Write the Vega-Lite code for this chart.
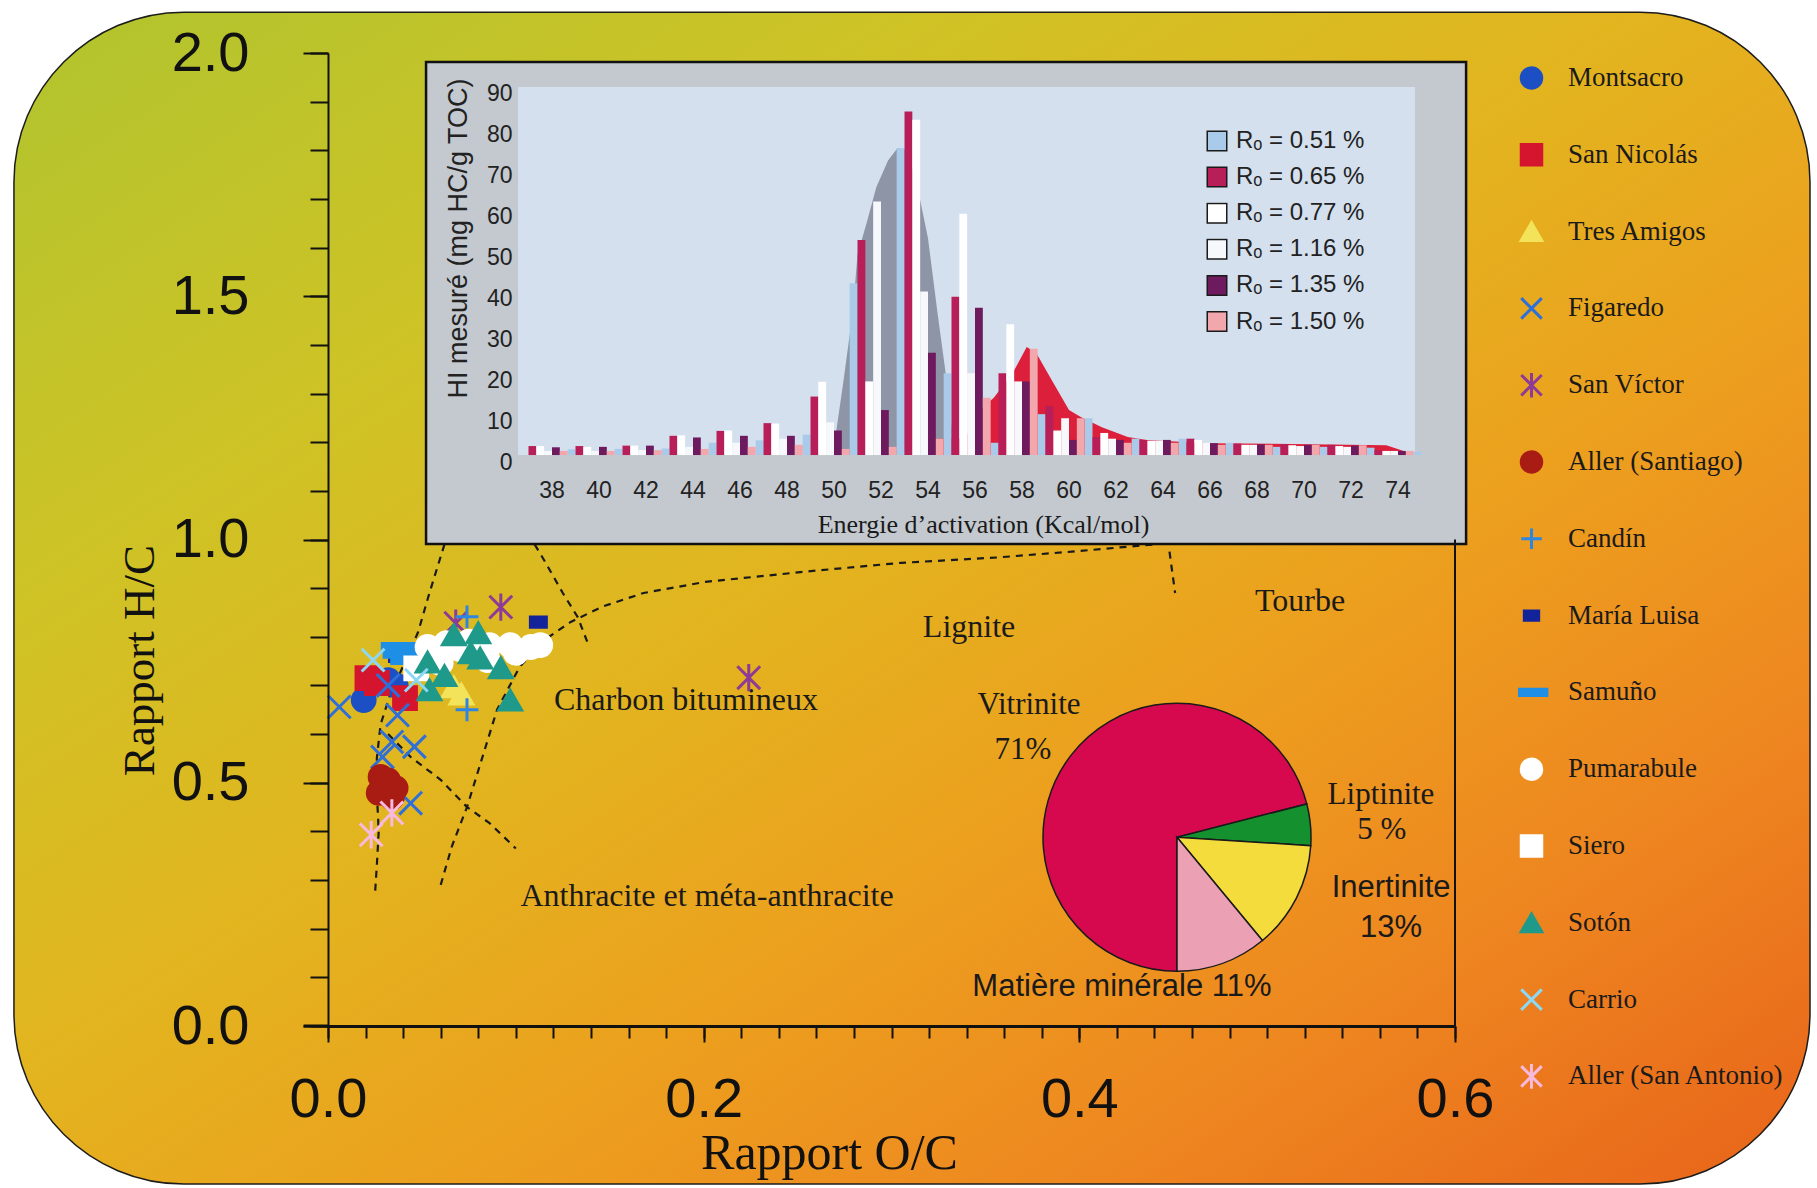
{
  "$schema": "https://vega.github.io/schema/vega-lite/v6.json",
  "width": 1127,
  "height": 973,
  "autosize": {"type": "none"},
  "padding": {"left": 328, "top": 53, "right": 362, "bottom": 162},
  "background": "#ffffff",
  "config": {"view": {"stroke": null}, "axis": {"grid": false}},
  "datasets": {
    "limites": [
      {"trait": "L1", "ordre": 1, "oc": 0.060, "hc": 0.29},
      {"trait": "L1", "ordre": 2, "oc": 0.066, "hc": 0.37},
      {"trait": "L1", "ordre": 3, "oc": 0.074, "hc": 0.45},
      {"trait": "L1", "ordre": 4, "oc": 0.082, "hc": 0.55},
      {"trait": "L1", "ordre": 5, "oc": 0.090, "hc": 0.65},
      {"trait": "L1", "ordre": 6, "oc": 0.102, "hc": 0.738},
      {"trait": "L1", "ordre": 7, "oc": 0.115, "hc": 0.793},
      {"trait": "L1", "ordre": 8, "oc": 0.129, "hc": 0.830},
      {"trait": "L1", "ordre": 9, "oc": 0.146, "hc": 0.862},
      {"trait": "L1", "ordre": 10, "oc": 0.168, "hc": 0.890},
      {"trait": "L1", "ordre": 11, "oc": 0.201, "hc": 0.913},
      {"trait": "L1", "ordre": 12, "oc": 0.257, "hc": 0.935},
      {"trait": "L1", "ordre": 13, "oc": 0.305, "hc": 0.952},
      {"trait": "L1", "ordre": 14, "oc": 0.356, "hc": 0.963},
      {"trait": "L1", "ordre": 15, "oc": 0.396, "hc": 0.975},
      {"trait": "L1", "ordre": 16, "oc": 0.440, "hc": 0.990},
      {"trait": "L2", "ordre": 1, "oc": 0.062, "hc": 0.99},
      {"trait": "L2", "ordre": 2, "oc": 0.058, "hc": 0.94},
      {"trait": "L2", "ordre": 3, "oc": 0.054, "hc": 0.89},
      {"trait": "L2", "ordre": 4, "oc": 0.048, "hc": 0.81},
      {"trait": "L2", "ordre": 5, "oc": 0.040, "hc": 0.74},
      {"trait": "L2", "ordre": 6, "oc": 0.033, "hc": 0.68},
      {"trait": "L2", "ordre": 7, "oc": 0.028, "hc": 0.62},
      {"trait": "L2", "ordre": 8, "oc": 0.026, "hc": 0.55},
      {"trait": "L2", "ordre": 9, "oc": 0.026, "hc": 0.48},
      {"trait": "L2", "ordre": 10, "oc": 0.027, "hc": 0.40},
      {"trait": "L2", "ordre": 11, "oc": 0.026, "hc": 0.33},
      {"trait": "L2", "ordre": 12, "oc": 0.025, "hc": 0.27},
      {"trait": "L3", "ordre": 1, "oc": 0.110, "hc": 0.99},
      {"trait": "L3", "ordre": 2, "oc": 0.115, "hc": 0.958},
      {"trait": "L3", "ordre": 3, "oc": 0.125, "hc": 0.890},
      {"trait": "L3", "ordre": 4, "oc": 0.133, "hc": 0.840},
      {"trait": "L3", "ordre": 5, "oc": 0.138, "hc": 0.790},
      {"trait": "L4", "ordre": 1, "oc": 0.032, "hc": 0.600},
      {"trait": "L4", "ordre": 2, "oc": 0.044, "hc": 0.553},
      {"trait": "L4", "ordre": 3, "oc": 0.060, "hc": 0.506},
      {"trait": "L4", "ordre": 4, "oc": 0.074, "hc": 0.450},
      {"trait": "L4", "ordre": 5, "oc": 0.086, "hc": 0.417},
      {"trait": "L4", "ordre": 6, "oc": 0.100, "hc": 0.365},
      {"trait": "L5", "ordre": 1, "oc": 0.448, "hc": 0.975},
      {"trait": "L5", "ordre": 2, "oc": 0.451, "hc": 0.890}
    ],
    "profil": [
      {"forme": "cloche", "E": 49.9, "HI": 0},
      {"forme": "cloche", "E": 50.0, "HI": 2},
      {"forme": "cloche", "E": 50.4, "HI": 18},
      {"forme": "cloche", "E": 50.8, "HI": 35},
      {"forme": "cloche", "E": 51.0, "HI": 49},
      {"forme": "cloche", "E": 51.4, "HI": 57},
      {"forme": "cloche", "E": 51.8, "HI": 65.5},
      {"forme": "cloche", "E": 52.3, "HI": 72},
      {"forme": "cloche", "E": 52.7, "HI": 75},
      {"forme": "cloche", "E": 53.1, "HI": 74.6},
      {"forme": "cloche", "E": 53.5, "HI": 67},
      {"forme": "cloche", "E": 54.0, "HI": 53},
      {"forme": "cloche", "E": 54.4, "HI": 35},
      {"forme": "cloche", "E": 54.8, "HI": 18},
      {"forme": "cloche", "E": 55.1, "HI": 2},
      {"forme": "cloche", "E": 55.2, "HI": 0},
      {"forme": "bosse", "E": 54.2, "HI": 0},
      {"forme": "bosse", "E": 54.3, "HI": 4},
      {"forme": "bosse", "E": 55.6, "HI": 4},
      {"forme": "bosse", "E": 56.0, "HI": 10},
      {"forme": "bosse", "E": 56.8, "HI": 14},
      {"forme": "bosse", "E": 57.6, "HI": 20},
      {"forme": "bosse", "E": 58.2, "HI": 26.4},
      {"forme": "bosse", "E": 58.6, "HI": 25},
      {"forme": "bosse", "E": 59.3, "HI": 18},
      {"forme": "bosse", "E": 60.0, "HI": 11},
      {"forme": "bosse", "E": 60.5, "HI": 9.3},
      {"forme": "bosse", "E": 61.4, "HI": 6.8},
      {"forme": "bosse", "E": 62.5, "HI": 4.4},
      {"forme": "bosse", "E": 63.3, "HI": 3.7},
      {"forme": "bosse", "E": 66.0, "HI": 2.9},
      {"forme": "bosse", "E": 69.5, "HI": 2.7},
      {"forme": "bosse", "E": 73.5, "HI": 2.4},
      {"forme": "bosse", "E": 74.5, "HI": 0.5},
      {"forme": "bosse", "E": 74.6, "HI": 0}
    ],
    "energie": [
      {"E": 38, "Ro": "0.51", "HI": 1.4}, {"E": 38, "Ro": "0.65", "HI": 2.2}, {"E": 38, "Ro": "0.77", "HI": 2.2}, {"E": 38, "Ro": "1.16", "HI": 1.0}, {"E": 38, "Ro": "1.35", "HI": 1.9}, {"E": 38, "Ro": "1.50", "HI": 1.0},
      {"E": 40, "Ro": "0.51", "HI": 1.5}, {"E": 40, "Ro": "0.65", "HI": 2.2}, {"E": 40, "Ro": "0.77", "HI": 2.0}, {"E": 40, "Ro": "1.16", "HI": 1.0}, {"E": 40, "Ro": "1.35", "HI": 2.0}, {"E": 40, "Ro": "1.50", "HI": 1.0},
      {"E": 42, "Ro": "0.51", "HI": 1.6}, {"E": 42, "Ro": "0.65", "HI": 2.3}, {"E": 42, "Ro": "0.77", "HI": 2.3}, {"E": 42, "Ro": "1.16", "HI": 1.2}, {"E": 42, "Ro": "1.35", "HI": 2.3}, {"E": 42, "Ro": "1.50", "HI": 1.2},
      {"E": 44, "Ro": "0.51", "HI": 3.0}, {"E": 44, "Ro": "0.65", "HI": 4.7}, {"E": 44, "Ro": "0.77", "HI": 4.8}, {"E": 44, "Ro": "1.16", "HI": 2.0}, {"E": 44, "Ro": "1.35", "HI": 4.3}, {"E": 44, "Ro": "1.50", "HI": 1.5},
      {"E": 46, "Ro": "0.51", "HI": 3.6}, {"E": 46, "Ro": "0.65", "HI": 5.9}, {"E": 46, "Ro": "0.77", "HI": 6.0}, {"E": 46, "Ro": "1.16", "HI": 3.0}, {"E": 46, "Ro": "1.35", "HI": 4.7}, {"E": 46, "Ro": "1.50", "HI": 2.0},
      {"E": 48, "Ro": "0.51", "HI": 5.0}, {"E": 48, "Ro": "0.65", "HI": 7.8}, {"E": 48, "Ro": "0.77", "HI": 7.7}, {"E": 48, "Ro": "1.16", "HI": 4.0}, {"E": 48, "Ro": "1.35", "HI": 4.7}, {"E": 48, "Ro": "1.50", "HI": 2.5},
      {"E": 50, "Ro": "0.51", "HI": 42}, {"E": 50, "Ro": "0.65", "HI": 14.3}, {"E": 50, "Ro": "0.77", "HI": 17.9}, {"E": 50, "Ro": "1.16", "HI": 8.0}, {"E": 50, "Ro": "1.35", "HI": 6.0}, {"E": 50, "Ro": "1.50", "HI": 1.5},
      {"E": 52, "Ro": "0.51", "HI": 75}, {"E": 52, "Ro": "0.65", "HI": 52.6}, {"E": 52, "Ro": "0.77", "HI": 18}, {"E": 52, "Ro": "1.16", "HI": 62}, {"E": 52, "Ro": "1.35", "HI": 11}, {"E": 52, "Ro": "1.50", "HI": 2.0},
      {"E": 54, "Ro": "0.51", "HI": 20}, {"E": 54, "Ro": "0.65", "HI": 84}, {"E": 54, "Ro": "0.77", "HI": 82}, {"E": 54, "Ro": "1.16", "HI": 40}, {"E": 54, "Ro": "1.35", "HI": 25}, {"E": 54, "Ro": "1.50", "HI": 4},
      {"E": 56, "Ro": "0.51", "HI": 3}, {"E": 56, "Ro": "0.65", "HI": 38.7}, {"E": 56, "Ro": "0.77", "HI": 59}, {"E": 56, "Ro": "1.16", "HI": 20}, {"E": 56, "Ro": "1.35", "HI": 36}, {"E": 56, "Ro": "1.50", "HI": 14},
      {"E": 58, "Ro": "0.51", "HI": 10}, {"E": 58, "Ro": "0.65", "HI": 20}, {"E": 58, "Ro": "0.77", "HI": 32}, {"E": 58, "Ro": "1.16", "HI": 18}, {"E": 58, "Ro": "1.35", "HI": 18}, {"E": 58, "Ro": "1.50", "HI": 26},
      {"E": 60, "Ro": "0.51", "HI": 9}, {"E": 60, "Ro": "0.65", "HI": 12}, {"E": 60, "Ro": "0.77", "HI": 6}, {"E": 60, "Ro": "1.16", "HI": 9}, {"E": 60, "Ro": "1.35", "HI": 3.7}, {"E": 60, "Ro": "1.50", "HI": 9},
      {"E": 62, "Ro": "0.51", "HI": 4}, {"E": 62, "Ro": "0.65", "HI": 4.4}, {"E": 62, "Ro": "0.77", "HI": 5.4}, {"E": 62, "Ro": "1.16", "HI": 4}, {"E": 62, "Ro": "1.35", "HI": 3.7}, {"E": 62, "Ro": "1.50", "HI": 3},
      {"E": 64, "Ro": "0.51", "HI": 4}, {"E": 64, "Ro": "0.65", "HI": 3.7}, {"E": 64, "Ro": "0.77", "HI": 3.5}, {"E": 64, "Ro": "1.16", "HI": 3.5}, {"E": 64, "Ro": "1.35", "HI": 3.7}, {"E": 64, "Ro": "1.50", "HI": 3},
      {"E": 66, "Ro": "0.51", "HI": 3}, {"E": 66, "Ro": "0.65", "HI": 4}, {"E": 66, "Ro": "0.77", "HI": 3.7}, {"E": 66, "Ro": "1.16", "HI": 3}, {"E": 66, "Ro": "1.35", "HI": 2.9}, {"E": 66, "Ro": "1.50", "HI": 2.5},
      {"E": 68, "Ro": "0.51", "HI": 2}, {"E": 68, "Ro": "0.65", "HI": 2.8}, {"E": 68, "Ro": "0.77", "HI": 2.5}, {"E": 68, "Ro": "1.16", "HI": 2.5}, {"E": 68, "Ro": "1.35", "HI": 2.6}, {"E": 68, "Ro": "1.50", "HI": 2.5},
      {"E": 70, "Ro": "0.51", "HI": 2}, {"E": 70, "Ro": "0.65", "HI": 2.7}, {"E": 70, "Ro": "0.77", "HI": 2.4}, {"E": 70, "Ro": "1.16", "HI": 2.2}, {"E": 70, "Ro": "1.35", "HI": 2.5}, {"E": 70, "Ro": "1.50", "HI": 2.5},
      {"E": 72, "Ro": "0.51", "HI": 1.8}, {"E": 72, "Ro": "0.65", "HI": 2.5}, {"E": 72, "Ro": "0.77", "HI": 2.2}, {"E": 72, "Ro": "1.16", "HI": 2.0}, {"E": 72, "Ro": "1.35", "HI": 2.3}, {"E": 72, "Ro": "1.50", "HI": 2.4},
      {"E": 74, "Ro": "0.51", "HI": 0.8}, {"E": 74, "Ro": "0.65", "HI": 1.2}, {"E": 74, "Ro": "0.77", "HI": 1.0}, {"E": 74, "Ro": "1.16", "HI": 1.0}, {"E": 74, "Ro": "1.35", "HI": 1.0}, {"E": 74, "Ro": "1.50", "HI": 1.0}
    ],
    "maceraux": [
      {"maceral": "Vitrinite", "pct": 71, "rang": 1},
      {"maceral": "Liptinite", "pct": 5, "rang": 2},
      {"maceral": "Inertinite", "pct": 13, "rang": 3},
      {"maceral": "Matière minérale", "pct": 11, "rang": 4}
    ],
    "charbons": [
      {"site": "Montsacro", "oc": 0.019, "hc": 0.670},
      {"site": "Montsacro", "oc": 0.032, "hc": 0.711},
      {"site": "Montsacro", "oc": 0.036, "hc": 0.700},
      {"site": "San Nicolás", "oc": 0.021, "hc": 0.715},
      {"site": "San Nicolás", "oc": 0.041, "hc": 0.674},
      {"site": "San Nicolás", "oc": 0.026, "hc": 0.705},
      {"site": "Tres Amigos", "oc": 0.067, "hc": 0.697},
      {"site": "Tres Amigos", "oc": 0.071, "hc": 0.682},
      {"site": "Figaredo", "oc": 0.006, "hc": 0.656},
      {"site": "Figaredo", "oc": 0.037, "hc": 0.639},
      {"site": "Figaredo", "oc": 0.034, "hc": 0.584},
      {"site": "Figaredo", "oc": 0.046, "hc": 0.574},
      {"site": "Figaredo", "oc": 0.029, "hc": 0.553},
      {"site": "Figaredo", "oc": 0.044, "hc": 0.458},
      {"site": "Figaredo", "oc": 0.032, "hc": 0.700},
      {"site": "San Víctor", "oc": 0.092, "hc": 0.861},
      {"site": "San Víctor", "oc": 0.224, "hc": 0.716},
      {"site": "San Víctor", "oc": 0.068, "hc": 0.828},
      {"site": "Aller (Santiago)", "oc": 0.028, "hc": 0.512},
      {"site": "Aller (Santiago)", "oc": 0.036, "hc": 0.489},
      {"site": "Aller (Santiago)", "oc": 0.027, "hc": 0.479},
      {"site": "Aller (Santiago)", "oc": 0.032, "hc": 0.505},
      {"site": "Aller (Santiago)", "oc": 0.034, "hc": 0.470},
      {"site": "Candín", "oc": 0.074, "hc": 0.841},
      {"site": "Candín", "oc": 0.074, "hc": 0.650},
      {"site": "María Luisa", "oc": 0.112, "hc": 0.830},
      {"site": "María Luisa", "oc": 0.037, "hc": 0.760},
      {"site": "Samuño", "oc": 0.038, "hc": 0.779},
      {"site": "Samuño", "oc": 0.039, "hc": 0.765},
      {"site": "Samuño", "oc": 0.043, "hc": 0.752},
      {"site": "Pumarabule", "oc": 0.053, "hc": 0.779},
      {"site": "Pumarabule", "oc": 0.063, "hc": 0.787},
      {"site": "Pumarabule", "oc": 0.060, "hc": 0.746},
      {"site": "Pumarabule", "oc": 0.070, "hc": 0.775},
      {"site": "Pumarabule", "oc": 0.086, "hc": 0.783},
      {"site": "Pumarabule", "oc": 0.097, "hc": 0.783},
      {"site": "Pumarabule", "oc": 0.108, "hc": 0.779},
      {"site": "Pumarabule", "oc": 0.113, "hc": 0.783},
      {"site": "Pumarabule", "oc": 0.085, "hc": 0.752},
      {"site": "Pumarabule", "oc": 0.100, "hc": 0.767},
      {"site": "Pumarabule", "oc": 0.058, "hc": 0.762},
      {"site": "Pumarabule", "oc": 0.075, "hc": 0.790},
      {"site": "Siero", "oc": 0.047, "hc": 0.735},
      {"site": "Sotón", "oc": 0.067, "hc": 0.804},
      {"site": "Sotón", "oc": 0.080, "hc": 0.808},
      {"site": "Sotón", "oc": 0.076, "hc": 0.767},
      {"site": "Sotón", "oc": 0.081, "hc": 0.756},
      {"site": "Sotón", "oc": 0.092, "hc": 0.736},
      {"site": "Sotón", "oc": 0.053, "hc": 0.748},
      {"site": "Sotón", "oc": 0.054, "hc": 0.691},
      {"site": "Sotón", "oc": 0.097, "hc": 0.670},
      {"site": "Sotón", "oc": 0.062, "hc": 0.720},
      {"site": "Carrio", "oc": 0.024, "hc": 0.752},
      {"site": "Carrio", "oc": 0.047, "hc": 0.711},
      {"site": "Aller (San Antonio)", "oc": 0.034, "hc": 0.438},
      {"site": "Aller (San Antonio)", "oc": 0.023, "hc": 0.393}
    ],
    "zones": [
      {"texte": "Lignite", "oc": 0.3413, "hc": 0.820},
      {"texte": "Tourbe", "oc": 0.5175, "hc": 0.8736},
      {"texte": "Charbon bitumineux", "oc": 0.1906, "hc": 0.670},
      {"texte": "Anthracite et méta-anthracite", "oc": 0.2018, "hc": 0.2672}
    ],
    "etiquettesSerif": [
      {"texte": "Vitrinite", "oc": 0.3732, "hc": 0.660},
      {"texte": "71%", "oc": 0.370, "hc": 0.567},
      {"texte": "Liptinite", "oc": 0.5606, "hc": 0.475},
      {"texte": "5 %", "oc": 0.561, "hc": 0.403}
    ],
    "etiquettesSans": [
      {"texte": "Inertinite", "oc": 0.566, "hc": 0.284},
      {"texte": "13%", "oc": 0.566, "hc": 0.201},
      {"texte": "Matière minérale  11%", "oc": 0.4227, "hc": 0.080}
    ]
  },
  "resolve": {"scale": {"x": "independent", "y": "independent", "fill": "independent", "stroke": "independent", "shape": "independent"}},
  "layer": [
    {
      "data": {"values": [{}]},
      "mark": {"type": "rect", "cornerRadius": 170, "stroke": "#1c1c1c", "strokeWidth": 1.5,
        "fill": {"gradient": "linear", "x1": 0, "y1": 0, "x2": 1, "y2": 1, "stops": [
          {"offset": 0, "color": "#b0c42e"}, {"offset": 0.25, "color": "#cec326"}, {"offset": 0.45, "color": "#e2b51f"},
          {"offset": 0.62, "color": "#eca01e"}, {"offset": 0.8, "color": "#ee8620"}, {"offset": 1, "color": "#e8631a"}]}},
      "encoding": {
        "x": {"datum": -0.1672, "type": "quantitative", "scale": {"domain": [0, 0.6], "nice": false, "zero": false}, "axis": null},
        "x2": {"datum": 0.789},
        "y": {"datum": 2.084, "type": "quantitative", "scale": {"domain": [0, 2], "nice": false, "zero": false}, "axis": null},
        "y2": {"datum": -0.325}
      }
    },
    {
      "data": {"name": "limites"},
      "mark": {"type": "line", "stroke": "#1a1a1a", "strokeWidth": 2.2, "strokeDash": [7, 6]},
      "encoding": {
        "x": {"field": "oc", "type": "quantitative", "scale": {"domain": [0, 0.6], "nice": false, "zero": false}, "axis": null},
        "y": {"field": "hc", "type": "quantitative", "scale": {"domain": [0, 2], "nice": false, "zero": false}, "axis": null},
        "detail": {"field": "trait", "type": "nominal"},
        "order": {"field": "ordre", "type": "quantitative"}
      }
    },
    {
      "data": {"values": [{}]},
      "mark": {"type": "rect", "fill": "#c4c9cf", "stroke": "#111111", "strokeWidth": 2.5},
      "encoding": {
        "x": {"datum": 0.0522, "type": "quantitative", "scale": {"domain": [0, 0.6], "nice": false, "zero": false}, "axis": null},
        "x2": {"datum": 0.6059},
        "y": {"datum": 1.9815, "type": "quantitative", "scale": {"domain": [0, 2], "nice": false, "zero": false}, "axis": null},
        "y2": {"datum": 0.9908}
      }
    },
    {
      "data": {"values": [{}]},
      "mark": {"type": "rect", "fill": "#d4e0ee"},
      "encoding": {
        "x": {"datum": 0.1012, "type": "quantitative", "scale": {"domain": [0, 0.6], "nice": false, "zero": false}, "axis": null},
        "x2": {"datum": 0.5787},
        "y": {"datum": 1.930, "type": "quantitative", "scale": {"domain": [0, 2], "nice": false, "zero": false}, "axis": null},
        "y2": {"datum": 1.1737}
      }
    },
    {
      "data": {"name": "profil"},
      "mark": {"type": "area", "opacity": 1},
      "encoding": {
        "x": {"field": "E", "type": "quantitative", "scale": {"domain": [28.468, 76.426], "nice": false, "zero": false}, "axis": null},
        "y": {"field": "HI", "type": "quantitative", "stack": null, "scale": {"domain": [-139.6, 98.3], "nice": false, "zero": false}, "axis": null},
        "y2": {"datum": 0},
        "fill": {"field": "forme", "type": "nominal", "scale": {"domain": ["cloche", "bosse"], "range": ["#8d95a6", "#dc1f3b"]}, "legend": null}
      }
    },
    {
      "data": {"name": "energie"},
      "mark": {"type": "bar"},
      "encoding": {
        "x": {"field": "E", "type": "ordinal",
          "scale": {"domain": [30, 32, 34, 36, 38, 40, 42, 44, 46, 48, 50, 52, 54, 56, 58, 60, 62, 64, 66, 68, 70, 72, 74], "paddingInner": 0, "paddingOuter": 0.4894, "align": 0.2717},
          "axis": {"orient": "bottom", "offset": -571, "values": [38, 40, 42, 44, 46, 48, 50, 52, 54, 56, 58, 60, 62, 64, 66, 68, 70, 72, 74],
            "domain": false, "ticks": false, "tickSize": 0, "labelAngle": 0,
            "labelFont": "Liberation Sans", "labelFontSize": 23, "labelColor": "#222222", "labelPadding": 24,
            "title": "Energie d’activation (Kcal/mol)", "titleFont": "Liberation Serif", "titleFontSize": 26, "titleFontWeight": "normal",
            "titleColor": "#1a1a1a", "titleX": 655, "titleY": 69, "titleBaseline": "middle", "titleAlign": "center", "zindex": 2}},
        "xOffset": {"field": "Ro", "type": "nominal", "sort": ["0.65", "0.77", "1.16", "1.35", "1.50", "0.51"], "scale": {"paddingInner": 0, "paddingOuter": 0}},
        "y": {"field": "HI", "type": "quantitative", "stack": null, "scale": {"domain": [-139.6, 98.3], "nice": false, "zero": false},
          "axis": {"orient": "left", "offset": -190, "values": [0, 10, 20, 30, 40, 50, 60, 70, 80, 90], "domain": false, "ticks": false, "tickSize": 0,
            "labelFont": "Liberation Sans", "labelFontSize": 23, "labelColor": "#222222", "labelPadding": 6, "labelOffset": 7, "labelFlush": false,
            "title": "HI mesuré (mg HC/g TOC)", "titleFont": "Liberation Sans", "titleFontSize": 27, "titleFontWeight": "normal", "titleColor": "#222222",
            "titleX": -60, "titleY": 185, "titleAngle": -90, "titleBaseline": "middle", "titleAlign": "center", "zindex": 2}},
        "y2": {"datum": 0},
        "fill": {"field": "Ro", "type": "nominal",
          "scale": {"domain": ["0.51", "0.65", "0.77", "1.16", "1.35", "1.50"], "range": ["#a9cbe9", "#b81e58", "#ffffff", "#f6f8fb", "#6d1a5e", "#f2a7ac"]},
          "legend": {"orient": "none", "legendX": 877, "legendY": 77, "title": null, "symbolType": "square", "symbolSize": 380,
            "symbolStrokeColor": "#1a1a1a", "symbolStrokeWidth": 1.5, "labelFont": "Liberation Sans", "labelFontSize": 24, "labelColor": "#222222",
            "labelExpr": "'Rₒ = ' + datum.label + ' %'", "clipHeight": 22, "rowPadding": 12.1, "labelOffset": 7, "padding": 0}}
      }
    },
    {
      "data": {"values": [{}]},
      "mark": {"type": "rule", "stroke": "#111111", "strokeWidth": 2},
      "encoding": {
        "x": {"datum": 0.6, "type": "quantitative", "scale": {"domain": [0, 0.6], "nice": false, "zero": false}, "axis": null},
        "y": {"datum": 0, "type": "quantitative", "scale": {"domain": [0, 2], "nice": false, "zero": false}, "axis": null},
        "y2": {"datum": 1.0}
      }
    },
    {
      "data": {"values": [{}]},
      "mark": {"type": "rule", "stroke": "#111111", "strokeWidth": 3},
      "encoding": {
        "x": {"datum": -0.013, "type": "quantitative", "scale": {"domain": [0, 0.6], "nice": false, "zero": false}, "axis": null},
        "x2": {"datum": 0},
        "y": {"datum": 0, "type": "quantitative", "scale": {"domain": [0, 2], "nice": false, "zero": false}, "axis": null}
      }
    },
    {
      "data": {"values": [{}]},
      "mark": {"type": "point", "opacity": 0},
      "encoding": {
        "x": {"datum": 0, "type": "quantitative", "scale": {"domain": [0, 0.6], "nice": false, "zero": false},
          "axis": {"orient": "bottom", "values": [0, 0.02, 0.04, 0.06, 0.08, 0.1, 0.12, 0.14, 0.16, 0.18, 0.2, 0.22, 0.24, 0.26, 0.28, 0.3, 0.32, 0.34, 0.36, 0.38, 0.4, 0.42, 0.44, 0.46, 0.48, 0.5, 0.52, 0.54, 0.56, 0.58, 0.6],
            "labels": false, "domain": false, "tickSize": 12, "tickWidth": 2, "tickColor": "#111111", "title": null, "zindex": 2}},
        "y": {"datum": 0, "type": "quantitative", "scale": {"domain": [0, 2], "nice": false, "zero": false},
          "axis": {"orient": "left", "values": [0, 0.1, 0.2, 0.3, 0.4, 0.5, 0.6, 0.7, 0.8, 0.9, 1, 1.1, 1.2, 1.3, 1.4, 1.5, 1.6, 1.7, 1.8, 1.9, 2],
            "labels": false, "domain": false, "tickSize": 18, "tickWidth": 2, "tickColor": "#111111", "title": null, "zindex": 2}}
      }
    },
    {
      "data": {"name": "zones"},
      "mark": {"type": "text", "font": "Liberation Serif", "fontSize": 32, "color": "#1a1a1a"},
      "encoding": {
        "x": {"field": "oc", "type": "quantitative", "scale": {"domain": [0, 0.6], "nice": false, "zero": false}, "axis": null},
        "y": {"field": "hc", "type": "quantitative", "scale": {"domain": [0, 2], "nice": false, "zero": false}, "axis": null},
        "text": {"field": "texte", "type": "nominal"}
      }
    },
    {
      "data": {"name": "maceraux"},
      "mark": {"type": "arc", "outerRadius": 134, "stroke": "#1a1a1a", "strokeWidth": 1.5},
      "encoding": {
        "theta": {"field": "pct", "type": "quantitative", "stack": true, "scale": {"range": [3.14159, 9.42478]}},
        "order": {"field": "rang", "type": "quantitative"},
        "fill": {"field": "maceral", "type": "nominal", "scale": {"domain": ["Vitrinite", "Liptinite", "Inertinite", "Matière minérale"], "range": ["#d6084e", "#15902e", "#f4dc3c", "#eba0b4"]}, "legend": null},
        "x": {"datum": 0.452, "type": "quantitative", "scale": {"domain": [0, 0.6], "nice": false, "zero": false}, "axis": null},
        "y": {"datum": 0.388, "type": "quantitative", "scale": {"domain": [0, 2], "nice": false, "zero": false}, "axis": null}
      }
    },
    {
      "data": {"name": "etiquettesSerif"},
      "mark": {"type": "text", "font": "Liberation Serif", "fontSize": 31, "color": "#1a1a1a"},
      "encoding": {
        "x": {"field": "oc", "type": "quantitative", "scale": {"domain": [0, 0.6], "nice": false, "zero": false}, "axis": null},
        "y": {"field": "hc", "type": "quantitative", "scale": {"domain": [0, 2], "nice": false, "zero": false}, "axis": null},
        "text": {"field": "texte", "type": "nominal"}
      }
    },
    {
      "data": {"name": "etiquettesSans"},
      "mark": {"type": "text", "font": "Liberation Sans", "fontSize": 31, "color": "#1a1a1a"},
      "encoding": {
        "x": {"field": "oc", "type": "quantitative", "scale": {"domain": [0, 0.6], "nice": false, "zero": false}, "axis": null},
        "y": {"field": "hc", "type": "quantitative", "scale": {"domain": [0, 2], "nice": false, "zero": false}, "axis": null},
        "text": {"field": "texte", "type": "nominal"}
      }
    },
    {
      "data": {"name": "charbons"},
      "mark": {"type": "point", "filled": true, "opacity": 1, "size": 520, "strokeWidth": 3},
      "encoding": {
        "x": {"field": "oc", "type": "quantitative", "scale": {"domain": [0, 0.6], "nice": false, "zero": false},
          "axis": {"orient": "bottom", "values": [0, 0.2, 0.4, 0.6], "format": ".1f", "labelFont": "Liberation Sans", "labelFontSize": 56, "labelColor": "#111111",
            "labelPadding": 30, "labelFlush": false, "labelOverlap": false, "tickSize": 16, "tickWidth": 2, "tickColor": "#111111",
            "domainColor": "#111111", "domainWidth": 3, "title": "Rapport O/C", "titleFont": "Liberation Serif", "titleFontSize": 50,
            "titleFontWeight": "normal", "titleColor": "#111111", "titleX": 501, "titleY": 127, "titleBaseline": "middle", "titleAlign": "center", "zindex": 2}},
        "y": {"field": "hc", "type": "quantitative", "scale": {"domain": [0, 2], "nice": false, "zero": false},
          "axis": {"orient": "left", "values": [0, 0.5, 1, 1.5, 2], "format": ".1f", "labelFont": "Liberation Sans", "labelFontSize": 56, "labelColor": "#111111",
            "labelPadding": 54, "labelFlush": false, "labelOverlap": false, "tickSize": 25, "tickWidth": 2, "tickColor": "#111111",
            "domainColor": "#111111", "domainWidth": 2, "title": "Rapport H/C", "titleFont": "Liberation Serif", "titleFontSize": 45,
            "titleFontWeight": "normal", "titleColor": "#111111", "titleX": -189, "titleY": 607, "titleAngle": -90, "titleBaseline": "middle", "titleAlign": "center", "zindex": 2}},
        "fill": {"field": "site", "type": "nominal",
          "scale": {"domain": ["Montsacro", "San Nicolás", "Tres Amigos", "Figaredo", "San Víctor", "Aller (Santiago)", "Candín", "María Luisa", "Samuño", "Pumarabule", "Siero", "Sotón", "Carrio", "Aller (San Antonio)"],
            "range": ["#1d4fc4", "#d5152e", "#f3e35a", "#2f6fd8", "#8e3b96", "#a81c14", "#2f86e0", "#13239a", "#1f8fe6", "#ffffff", "#ffffff", "#1f9a8a", "#8cd8f4", "#f7b9dc"]},
          "legend": {"orient": "none", "legendX": 1190, "legendY": 10, "title": null, "labelFont": "Liberation Serif", "labelFontSize": 27, "labelColor": "#1a1a1a",
            "symbolSize": 420, "symbolStrokeWidth": 3, "clipHeight": 30, "rowPadding": 46.8, "labelOffset": 23, "padding": 0, "labelLimit": 400}},
        "stroke": {"field": "site", "type": "nominal",
          "scale": {"domain": ["Montsacro", "San Nicolás", "Tres Amigos", "Figaredo", "San Víctor", "Aller (Santiago)", "Candín", "María Luisa", "Samuño", "Pumarabule", "Siero", "Sotón", "Carrio", "Aller (San Antonio)"],
            "range": ["#1d4fc4", "#d5152e", "#f3e35a", "#2f6fd8", "#8e3b96", "#a81c14", "#2f86e0", "#13239a", "#1f8fe6", "#ffffff", "#ffffff", "#1f9a8a", "#8cd8f4", "#f7b9dc"]},
          "legend": {"orient": "none", "legendX": 1190, "legendY": 10, "title": null, "labelFont": "Liberation Serif", "labelFontSize": 27, "labelColor": "#1a1a1a",
            "symbolSize": 420, "symbolStrokeWidth": 3, "clipHeight": 30, "rowPadding": 46.8, "labelOffset": 23, "padding": 0, "labelLimit": 400}},
        "shape": {"field": "site", "type": "nominal",
          "scale": {"domain": ["Montsacro", "San Nicolás", "Tres Amigos", "Figaredo", "San Víctor", "Aller (Santiago)", "Candín", "María Luisa", "Samuño", "Pumarabule", "Siero", "Sotón", "Carrio", "Aller (San Antonio)"],
            "range": ["circle", "square", "triangle-up", "M-1,-1L1,1M-1,1L1,-1", "M-1,-1L1,1M-1,1L1,-1M0,-1.2L0,1.2", "circle", "M-1,0L1,0M0,-1L0,1", "M-0.7,-0.45L0.7,-0.45L0.7,0.45L-0.7,0.45Z", "M-1.5,-0.3L1.5,-0.3L1.5,0.3L-1.5,0.3Z", "circle", "square", "triangle-up", "M-1,-1L1,1M-1,1L1,-1", "M-1,-1L1,1M-1,1L1,-1M0,-1.2L0,1.2"]},
          "legend": {"orient": "none", "legendX": 1190, "legendY": 10, "title": null, "labelFont": "Liberation Serif", "labelFontSize": 27, "labelColor": "#1a1a1a",
            "symbolSize": 420, "symbolStrokeWidth": 3, "clipHeight": 30, "rowPadding": 46.8, "labelOffset": 23, "padding": 0, "labelLimit": 400}}
      }
    }
  ]
}
